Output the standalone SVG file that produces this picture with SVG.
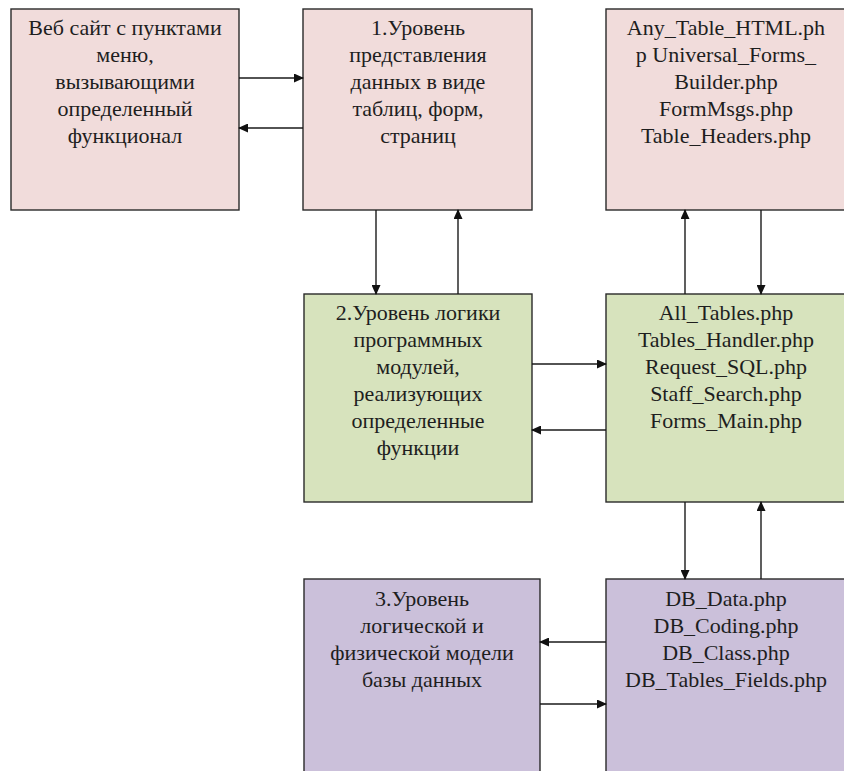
<svg xmlns="http://www.w3.org/2000/svg" width="844" height="771" viewBox="0 0 844 771" font-family="Liberation Serif, Times New Roman, DejaVu Serif, serif">
<style>
.box{stroke:#2a2a2a;stroke-width:1.4}
.pink{fill:#f1dcdb}
.green{fill:#d7e3bd}
.purple{fill:#cbc0da}
text{font-size:22px;fill:#1e1e1e;text-anchor:middle}
.c line{stroke:#1a1a1a;stroke-width:1.4}
</style>
<defs>
<marker id="ah" markerUnits="userSpaceOnUse" markerWidth="10" markerHeight="9" refX="9" refY="4.5" orient="auto">
<path d="M0,0 L10,4.5 L0,9 Z" fill="#111"/>
</marker>
</defs>
<rect width="844" height="771" fill="#ffffff"/>
<g id="web">
<rect class="box pink" x="11" y="9" width="228" height="201"/>
<text x="125" y="35">Веб сайт с пунктами</text>
<text x="125" y="62">меню,</text>
<text x="125" y="89">вызывающими</text>
<text x="125" y="116">определенный</text>
<text x="125" y="143">функционал</text>
</g>
<g id="level1">
<rect class="box pink" x="303" y="9" width="229" height="201"/>
<text x="418" y="35">1.Уровень</text>
<text x="418" y="62">представления</text>
<text x="418" y="89">данных в виде</text>
<text x="418" y="116">таблиц, форм,</text>
<text x="418" y="143">страниц</text>
</g>
<g id="files1">
<rect class="box pink" x="606" y="9" width="250" height="201"/>
<text x="726" y="35">Any_Table_HTML.ph</text>
<text x="726" y="62">p Universal_Forms_</text>
<text x="726" y="89">Builder.php</text>
<text x="726" y="116">FormMsgs.php</text>
<text x="726" y="143">Table_Headers.php</text>
</g>
<g id="level2">
<rect class="box green" x="304" y="294" width="228" height="208"/>
<text x="418" y="320">2.Уровень логики</text>
<text x="418" y="347">программных</text>
<text x="418" y="374">модулей,</text>
<text x="418" y="401">реализующих</text>
<text x="418" y="428">определенные</text>
<text x="418" y="455">функции</text>
</g>
<g id="files2">
<rect class="box green" x="606" y="294" width="250" height="208"/>
<text x="726" y="320">All_Tables.php</text>
<text x="726" y="347">Tables_Handler.php</text>
<text x="726" y="374">Request_SQL.php</text>
<text x="726" y="401">Staff_Search.php</text>
<text x="726" y="428">Forms_Main.php</text>
</g>
<g id="level3">
<rect class="box purple" x="304" y="579" width="236" height="210"/>
<text x="422" y="606">3.Уровень</text>
<text x="422" y="633">логической и</text>
<text x="422" y="660">физической модели</text>
<text x="422" y="687">базы данных</text>
</g>
<g id="files3">
<rect class="box purple" x="606" y="579" width="250" height="210"/>
<text x="726" y="606">DB_Data.php</text>
<text x="726" y="633">DB_Coding.php</text>
<text x="726" y="660">DB_Class.php</text>
<text x="726" y="687">DB_Tables_Fields.php</text>
</g>
<g id="connectors" class="c">
<line x1="239" y1="78" x2="303" y2="78" marker-end="url(#ah)"/>
<line x1="303" y1="128" x2="239" y2="128" marker-end="url(#ah)"/>
<line x1="376" y1="210" x2="376" y2="294" marker-end="url(#ah)"/>
<line x1="458" y1="294" x2="458" y2="210" marker-end="url(#ah)"/>
<line x1="685" y1="294" x2="685" y2="210" marker-end="url(#ah)"/>
<line x1="761" y1="210" x2="761" y2="294" marker-end="url(#ah)"/>
<line x1="532" y1="364" x2="606" y2="364" marker-end="url(#ah)"/>
<line x1="606" y1="430" x2="532" y2="430" marker-end="url(#ah)"/>
<line x1="685" y1="502" x2="685" y2="579" marker-end="url(#ah)"/>
<line x1="761" y1="579" x2="761" y2="502" marker-end="url(#ah)"/>
<line x1="606" y1="642" x2="540" y2="642" marker-end="url(#ah)"/>
<line x1="540" y1="704" x2="606" y2="704" marker-end="url(#ah)"/>
</g>
</svg>
